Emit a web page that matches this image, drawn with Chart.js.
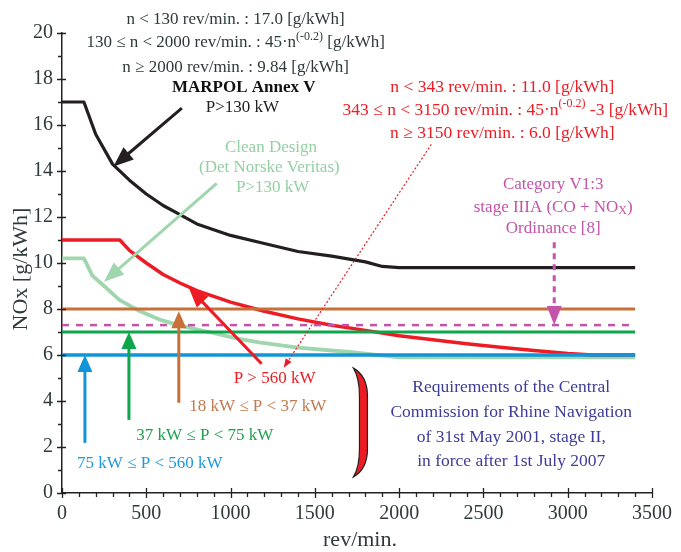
<!DOCTYPE html>
<html>
<head>
<meta charset="utf-8">
<script src="https://cdn.jsdelivr.net/npm/chart.js@4.4.1/dist/chart.umd.min.js"></script>
<style>
  html, body { margin: 0; padding: 0; background: #ffffff; }
  #wrap { width: 681px; height: 552px; position: relative; }
</style>
</head>
<body>
<div id="wrap"><canvas id="c" width="681" height="552"></canvas></div>
<script>
// ---------------- DATA ----------------
const xTicks = [0, 500, 1000, 1500, 2000, 2500, 3000, 3500];
const yTicks = [0, 2, 4, 6, 8, 10, 12, 14, 16, 18, 20];

// MARPOL Annex V, P>130 kW
const rpmMarpol = [0, 130, 200, 300, 400, 500, 600, 700, 800, 1000, 1200, 1400, 1600, 1800, 1900, 2000, 3400];
const noxMarpol = [17.0, 17.0, 15.6, 14.3, 13.6, 13.0, 12.5, 12.1, 11.7, 11.2, 10.85, 10.5, 10.3, 10.05, 9.85, 9.8, 9.8];

// Clean Design (Det Norske Veritas), P>130 kW
const rpmClean = [0, 130, 180, 250, 340, 450, 575, 700, 870, 1050, 1170, 1400, 1720, 2000, 3400];
const noxClean = [10.2, 10.2, 9.45, 9.0, 8.4, 7.95, 7.55, 7.28, 7.0, 6.7, 6.55, 6.32, 6.12, 5.9, 5.9];

// Rhine stage II, P > 560 kW
const rpmP560 = [0, 343, 400, 500, 600, 700, 800, 1000, 1200, 1400, 1600, 1800, 2000, 2200, 2400, 2600, 2800, 3000, 3150, 3400];
const noxP560 = [11.0, 11.0, 10.55, 10.0, 9.5, 9.13, 8.8, 8.3, 7.9, 7.57, 7.29, 7.07, 6.84, 6.66, 6.49, 6.34, 6.2, 6.07, 6.0, 6.0];

// Horizontal limits
const rpmFlat = [0, 3400];
const nox18to37 = [8.0, 8.0];     // 18 kW <= P < 37 kW
const noxV13 = [7.3, 7.3];        // Category V1:3 stage IIIA
const nox37to75 = [7.0, 7.0];     // 37 kW <= P < 75 kW
const nox75to560 = [6.0, 6.0];    // 75 kW <= P < 560 kW

// ---------------- helpers ----------------
const pts = (xs, ys) => xs.map((x, i) => ({ x: x, y: ys[i] }));
const SERIF = '"Liberation Serif", "Times New Roman", serif';

const C = {
  black: '#231f20', red: '#ed1c24', clean: '#9fd6ad', orange: '#c8703a',
  green: '#0ea64d', blue: '#0f95d8', magenta: '#c453a9', navy: '#3d3d98',
  tick: '#2e3a3a', cleanText: '#94d0a4', orangeText: '#c07a50', greenText: '#1fa04d', blueText: '#1f9ad8'
};

// text blocks: position in data units (centre x, middle y)
const textBlocks = [
  { x: 1030, y: 20.57, color: C.tick, size: 17, segs: [{ t: 'n < 130 rev/min. : 17.0 [g/kWh]' }] },
  { x: 1030, y: 19.57, color: C.tick, size: 17, segs: [{ t: '130 ≤ n < 2000 rev/min. : 45·n' }, { t: '(-0.2)', sup: true }, { t: ' [g/kWh]' }] },
  { x: 1030, y: 18.48, color: C.tick, size: 17, segs: [{ t: 'n ≥ 2000 rev/min. : 9.84 [g/kWh]' }] },
  { x: 1078, y: 17.61, color: '#111111', size: 17, bold: true, segs: [{ t: 'MARPOL Annex V' }] },
  { x: 1070, y: 16.78, color: '#222222', size: 17, segs: [{ t: 'P>130 kW' }] },

  { x: 2612, y: 17.65, color: C.red, size: 17.5, segs: [{ t: 'n < 343 rev/min. : 11.0 [g/kWh]' }] },
  { x: 2630, y: 16.65, color: C.red, size: 17.5, segs: [{ t: '343 ≤ n < 3150 rev/min. : 45·n' }, { t: '(-0.2)', sup: true }, { t: ' -3 [g/kWh]' }] },
  { x: 2612, y: 15.65, color: C.red, size: 17.5, segs: [{ t: 'n ≥ 3150 rev/min. : 6.0 [g/kWh]' }] },

  { x: 2914, y: 13.39, color: C.magenta, size: 17, segs: [{ t: 'Category V1:3' }] },
  { x: 2914, y: 12.43, color: C.magenta, size: 17, segs: [{ t: 'stage IIIA (CO + NO' }, { t: 'X', sub: true }, { t: ')' }] },
  { x: 2914, y: 11.52, color: C.magenta, size: 17, segs: [{ t: 'Ordinance [8]' }] },

  { x: 1240, y: 15.04, color: C.cleanText, size: 17, segs: [{ t: 'Clean Design' }] },
  { x: 1230, y: 14.13, color: C.cleanText, size: 17, segs: [{ t: '(Det Norske Veritas)' }] },
  { x: 1250, y: 13.26, color: C.cleanText, size: 17, segs: [{ t: 'P>130 kW' }] },

  { x: 1261, y: 4.96, color: C.red, size: 17, segs: [{ t: 'P > 560 kW' }] },
  { x: 1161, y: 3.74, color: C.orangeText, size: 17, segs: [{ t: '18 kW ≤ P < 37 kW' }] },
  { x: 847, y: 2.52, color: C.greenText, size: 17, segs: [{ t: '37 kW ≤ P < 75 kW' }] },
  { x: 521, y: 1.30, color: C.blueText, size: 17, segs: [{ t: '75 kW ≤ P < 560 kW' }] },

  { x: 2665, y: 4.57, color: C.navy, size: 17.5, segs: [{ t: 'Requirements of the Central' }] },
  { x: 2665, y: 3.52, color: C.navy, size: 17.5, segs: [{ t: 'Commission for Rhine Navigation' }] },
  { x: 2665, y: 2.43, color: C.navy, size: 17.5, segs: [{ t: 'of 31st May 2001, stage II,' }] },
  { x: 2665, y: 1.39, color: C.navy, size: 17.5, segs: [{ t: 'in force after 1st July 2007' }] }
];

// arrows: from (x1,y1) to tip (x2,y2), data units
const arrows = [
  { x1: 711, y1: 16.73, x2: 305, y2: 14.2, color: C.black, w: 3, hl: 20, hw: 16 },
  { x1: 918, y1: 13.46, x2: 249, y2: 9.19, color: C.clean, w: 3, hl: 20, hw: 16 },
  { x1: 1184, y1: 5.62, x2: 752, y2: 8.93, color: C.red, w: 3, hl: 20, hw: 16 },
  { x1: 2191, y1: 15.16, x2: 1315, y2: 5.45, color: C.red, w: 1.2, hl: 9, hw: 7, dash: [2, 2] },
  { x1: 693, y1: 3.92, x2: 693, y2: 7.9, color: C.orange, w: 3, hl: 17, hw: 15 },
  { x1: 397, y1: 3.18, x2: 397, y2: 7.0, color: C.green, w: 3, hl: 17, hw: 15 },
  { x1: 136, y1: 2.18, x2: 136, y2: 6.0, color: C.blue, w: 3, hl: 17, hw: 15 },
  { x1: 2920, y1: 10.9, x2: 2920, y2: 7.3, color: C.magenta, w: 3, hl: 19, hw: 15, dash: [6, 5] }
];

const bracket = { x: 1729, yTop: 5.43, yBottom: 0.70 };

function measureRich(ctx, b) {
  const base = (b.bold ? 'bold ' : '') + b.size + 'px ' + SERIF;
  const small = Math.round(b.size * 0.68) + 'px ' + SERIF;
  let total = 0;
  b.segs.forEach(s => { ctx.font = (s.sup || s.sub) ? small : base; s.w = ctx.measureText(s.t).width; total += s.w; });
  return total;
}

const annotPlugin = {
  id: 'annot',
  afterDraw(chart) {
    const ctx = chart.ctx, xs = chart.scales.x, ys = chart.scales.y, a = chart.chartArea;
    const px = v => xs.getPixelForValue(v), py = v => ys.getPixelForValue(v);
    ctx.save();

    // axis ticks
    ctx.strokeStyle = '#222'; ctx.lineWidth = 1.3;
    ctx.beginPath();
    for (let v = 0; v <= 20; v += 1) {
      const y = Math.round(py(v)) + 0.5;
      if (v % 2 === 0) { ctx.moveTo(a.left - 5, y); ctx.lineTo(a.left + 4, y); }
      else { ctx.moveTo(a.left - 4, y); ctx.lineTo(a.left, y); }
    }
    for (let v = 0; v <= 3500; v += 100) {
      const x = Math.round(px(v)) + 0.5;
      if (v % 500 === 0) { ctx.moveTo(x, a.bottom - 5); ctx.lineTo(x, a.bottom + 5); }
      else { ctx.moveTo(x, a.bottom); ctx.lineTo(x, a.bottom + 4); }
    }
    ctx.stroke();

    // axis titles
    ctx.fillStyle = C.tick;
    ctx.font = '22px ' + SERIF;
    ctx.textAlign = 'center'; ctx.textBaseline = 'middle';
    ctx.fillText('rev/min.', (a.left + a.right) / 2 + 3, 540);
    ctx.save();
    ctx.translate(21, (a.top + a.bottom) / 2 + 6);
    ctx.rotate(-Math.PI / 2);
    ctx.fillText('NOx [g/kWh]', 0, 0);
    ctx.restore();

    // arrows
    arrows.forEach(ar => {
      const x1 = px(ar.x1), y1 = py(ar.y1), x2 = px(ar.x2), y2 = py(ar.y2);
      const ang = Math.atan2(y2 - y1, x2 - x1);
      const bx = x2 - Math.cos(ang) * ar.hl, by = y2 - Math.sin(ang) * ar.hl;
      ctx.strokeStyle = ar.color; ctx.fillStyle = ar.color; ctx.lineWidth = ar.w;
      ctx.setLineDash(ar.dash || []);
      ctx.beginPath(); ctx.moveTo(x1, y1); ctx.lineTo(bx + Math.cos(ang) * 2, by + Math.sin(ang) * 2); ctx.stroke();
      ctx.setLineDash([]);
      const nx = -Math.sin(ang), ny = Math.cos(ang);
      ctx.beginPath();
      ctx.moveTo(x2, y2);
      ctx.lineTo(bx + nx * ar.hw / 2, by + ny * ar.hw / 2);
      ctx.lineTo(bx - nx * ar.hw / 2, by - ny * ar.hw / 2);
      ctx.closePath(); ctx.fill();
    });

    // bracket ")"
    const bx = px(bracket.x), t = py(bracket.yTop), bt = py(bracket.yBottom);
    ctx.beginPath();
    ctx.moveTo(bx, t);
    ctx.quadraticCurveTo(bx + 14, t + 8, bx + 14, t + 28);
    ctx.lineTo(bx + 14, bt - 28);
    ctx.quadraticCurveTo(bx + 14, bt - 8, bx, bt);
    ctx.quadraticCurveTo(bx + 6, bt - 10, bx + 6, bt - 28);
    ctx.lineTo(bx + 6, t + 28);
    ctx.quadraticCurveTo(bx + 6, t + 10, bx, t);
    ctx.closePath();
    ctx.fillStyle = C.red; ctx.fill();
    ctx.strokeStyle = '#222'; ctx.lineWidth = 1.2; ctx.stroke();

    // text
    ctx.textAlign = 'left'; ctx.textBaseline = 'middle';
    textBlocks.forEach(b => {
      const total = measureRich(ctx, b);
      let x = px(b.x) - total / 2; const y = py(b.y);
      ctx.fillStyle = b.color;
      b.segs.forEach(s => {
        ctx.font = (s.sup || s.sub) ? (Math.round(b.size * 0.68) + 'px ' + SERIF) : ((b.bold ? 'bold ' : '') + b.size + 'px ' + SERIF);
        const dy = s.sup ? -b.size * 0.35 : (s.sub ? b.size * 0.22 : 0);
        ctx.fillText(s.t, x, y + dy);
        x += s.w;
      });
    });
    ctx.restore();
  }
};

const line = (data, color, width, order, extra) => Object.assign({
  data: data, borderColor: color, borderWidth: width, showLine: true, pointRadius: 0,
  fill: false, tension: 0, order: order, borderCapStyle: 'butt', borderJoinStyle: 'round'
}, extra || {});

new Chart(document.getElementById('c'), {
  type: 'scatter',
  data: {
    datasets: [
      line(pts(rpmFlat, nox75to560), C.blue, 3.5, 1),
      line(pts(rpmFlat, nox37to75), C.green, 3.2, 2),
      line(pts(rpmFlat, noxV13), C.magenta, 2.5, 3, { borderDash: [7, 7] }),
      line(pts(rpmFlat, nox18to37), C.orange, 3.2, 4),
      line(pts(rpmMarpol, noxMarpol), C.black, 3.2, 5),
      line(pts(rpmP560, noxP560), C.red, 3.5, 6),
      line(pts(rpmClean, noxClean), C.clean, 3.8, 7)
    ]
  },
  options: {
    responsive: false, animation: false,
    layout: { padding: { left: 0, right: 28, top: 33, bottom: 0 } },
    plugins: { legend: { display: false }, tooltip: { enabled: false } },
    scales: {
      x: {
        type: 'linear', min: 0, max: 3500,
        afterBuildTicks: s => { s.ticks = xTicks.map(v => ({ value: v })); },
        afterFit: s => { s.height = 59; },
        grid: { display: true, drawOnChartArea: false, drawTicks: false },
        border: { display: true, color: '#222', width: 1.5 },
        ticks: { padding: 9, color: C.tick, font: { family: SERIF, size: 20 }, maxRotation: 0, autoSkip: false, callback: v => String(v) }
      },
      y: {
        type: 'linear', min: 0, max: 20,
        afterBuildTicks: s => { s.ticks = yTicks.map(v => ({ value: v })); },
        afterFit: s => { s.width = 62; },
        grid: { display: true, drawOnChartArea: false, drawTicks: false },
        border: { display: true, color: '#222', width: 1.5 },
        ticks: { padding: 9, color: C.tick, font: { family: SERIF, size: 20 }, autoSkip: false, callback: v => String(v) }
      }
    }
  },
  plugins: [annotPlugin]
});
</script>
</body>
</html>
